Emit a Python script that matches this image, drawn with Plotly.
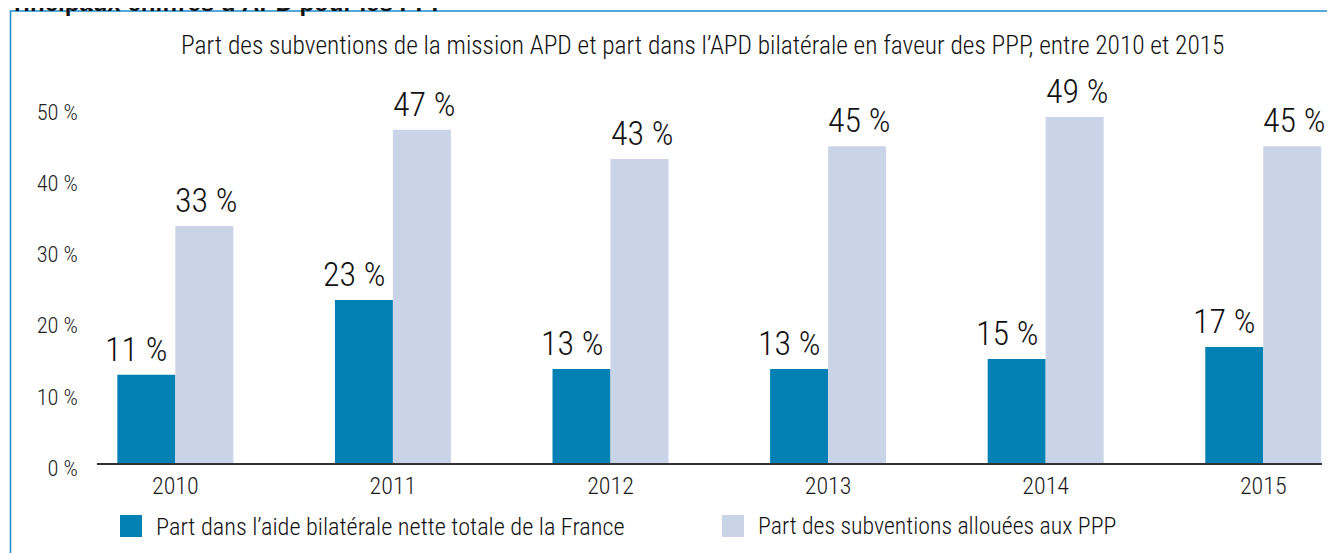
import plotly.graph_objects as go

years = ["2010", "2011", "2012", "2013", "2014", "2015"]
aide_bilaterale = [12.4, 22.9, 13.2, 13.2, 14.6, 16.3]
subventions_ppp = [33.3, 46.8, 42.7, 44.5, 48.6, 44.5]
aide_labels = ["11 %", "23 %", "13 %", "13 %", "15 %", "17 %"]
subv_labels = ["33 %", "47 %", "43 %", "45 %", "49 %", "45 %"]
series_names = ["Part dans l’aide bilatérale nette totale de la France",
                "Part des subventions allouées aux PPP"]
y_ticks = [0, 10, 20, 30, 40, 50]
y_ticktext = [f"{v} %" for v in y_ticks]

BLUE = "#0380b4"
LIGHT = "#c9d4e8"
FONT = "Roboto Condensed, Liberation Sans, Arial, sans-serif"

W, H = 1335, 553
OFF = 8  # page body margin
ML, MR, MT, MB = 89, 21, 99, 98
PW, PH = W - ML - MR, H - MT - MB


def px(x):
    return (x - OFF - ML) / PW


def py(y):
    return (H - MB - (y - OFF)) / PH


fig = go.Figure()
fig.add_trace(go.Bar(x=years, y=aide_bilaterale, name=series_names[0],
                     marker=dict(color=BLUE, line=dict(width=0)), showlegend=False))
fig.add_trace(go.Bar(x=years, y=subventions_ppp, name=series_names[1],
                     marker=dict(color=LIGHT, line=dict(width=0)), showlegend=False))

annotations = []
for i, (v, t) in enumerate(zip(aide_bilaterale, aide_labels)):
    annotations.append(dict(x=i, y=v, text=t, showarrow=False, xref="x", yref="y",
                            xanchor="center", yanchor="bottom", xshift=-39, yshift=4,
                            font=dict(family=FONT, size=34, weight=300, color="#111")))
for i, (v, t) in enumerate(zip(subventions_ppp, subv_labels)):
    annotations.append(dict(x=i, y=v, text=t, showarrow=False, xref="x", yref="y",
                            xanchor="center", yanchor="bottom", xshift=31, yshift=4,
                            font=dict(family=FONT, size=34, weight=300, color="#111")))

# Title
annotations.append(dict(x=px(702), y=py(45), xref="paper", yref="paper", showarrow=False,
                        text="Part des subventions de la mission APD et part dans l’APD bilatérale en faveur des PPP, entre 2010 et 2015",
                        xanchor="center", yanchor="middle",
                        font=dict(family=FONT, size=25.4, weight=300, color="#111")))
# Cut-off section heading
annotations.append(dict(x=px(-4), y=py(17.5), xref="paper", yref="paper", showarrow=False,
                        text="<b>Principaux chiffres d’APD pour les PPP</b>",
                        xanchor="left", yanchor="bottom",
                        font=dict(family="Liberation Sans, Arial, sans-serif", size=24, color="#111")))
# Legend texts
annotations.append(dict(x=px(154), y=py(526), xref="paper", yref="paper", showarrow=False,
                        text=series_names[0], xanchor="left", yanchor="middle",
                        font=dict(family=FONT, size=24.3, weight=300, color="#111")))
annotations.append(dict(x=px(756), y=py(526), xref="paper", yref="paper", showarrow=False,
                        text=series_names[1], xanchor="left", yanchor="middle",
                        font=dict(family=FONT, size=23.8, weight=300, color="#111")))

shapes = [
    dict(type="path", xref="paper", yref="paper",
         path=f"M {px(10.5)} {py(600)} L {px(10.5)} {py(11)} L {px(1400)} {py(11)}",
         line=dict(color="#1f8ccc", width=1.5)),
    dict(type="rect", xref="paper", yref="paper", x0=px(120), x1=px(142), y0=py(537), y1=py(515),
         fillcolor=BLUE, line=dict(width=0)),
    dict(type="rect", xref="paper", yref="paper", x0=px(722), x1=px(744), y0=py(537), y1=py(515),
         fillcolor=LIGHT, line=dict(width=0)),
]

fig.update_layout(
    width=W, height=H,
    margin=dict(l=ML, r=MR, t=MT, b=MB, pad=0),
    paper_bgcolor="white", plot_bgcolor="white",
    barmode="group", bargap=0.467, bargroupgap=0,
    font=dict(family=FONT, color="#222"),
    annotations=annotations, shapes=shapes,
    showlegend=False,
)
fig.update_xaxes(type="category", range=[-0.36, 5.27], showline=True, linecolor="#333",
                 linewidth=1.5, ticks="", showgrid=False, zeroline=False,
                 tickfont=dict(family=FONT, size=24, weight=300, color="#1a1a1a"))
fig.update_yaxes(range=[0, 50], tickvals=y_ticks, ticktext=y_ticktext, showgrid=False,
                 zeroline=False, showline=False, ticks="", ticklabelstandoff=18,
                 ticklabelshift=5,
                 tickfont=dict(family=FONT, size=22.5, weight=300, color="#222"))

fig.write_html("out.html")
